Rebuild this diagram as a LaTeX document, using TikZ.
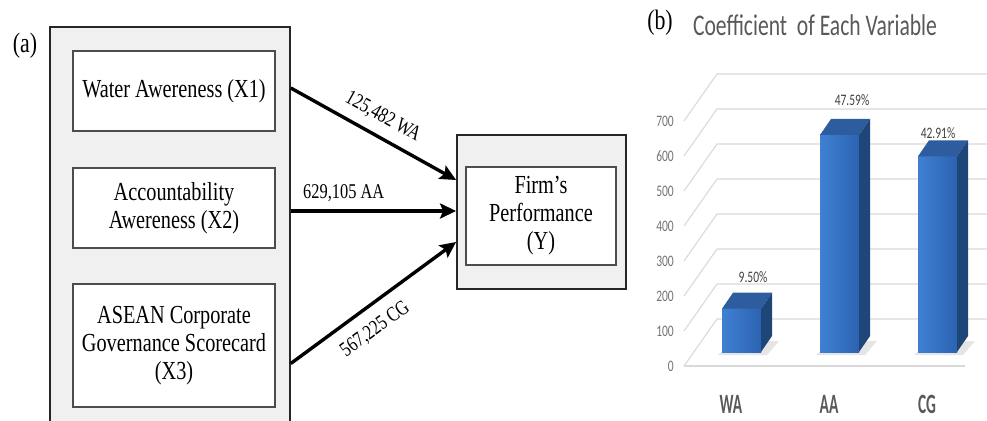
\documentclass[tikz,border=0pt]{standalone}
\usepackage{fontspec}
\newfontfamily\diagfont[FakeStretch=0.78]{Liberation Serif}
\newfontfamily\chartfont[FakeStretch=0.72]{Carlito}
\newfontfamily\narrowfont[FakeStretch=0.55]{Carlito}
\usetikzlibrary{arrows.meta, positioning, calc}
\definecolor{panelgray}{HTML}{F0F0F0}
\definecolor{gridgray}{HTML}{D9D9D9}
\definecolor{barlight}{HTML}{3F80D2}
\definecolor{bardark}{HTML}{2C63B2}
\definecolor{bartop}{HTML}{2D5C9F}
\definecolor{barside}{HTML}{1F4679}
\tikzset{
  groupbox/.style={draw=black!85, line width=1.8pt, fill=panelgray, inner sep=0pt},
  varbox/.style={draw=black!70, line width=1.2pt, fill=white, minimum width=202pt,
    align=center, inner sep=0pt, font=\diagfont\fontsize{26}{28}\selectfont},
  effect/.style={line width=3.4pt, -{Stealth[length=16pt,width=15pt,inset=3pt]}},
  coeflabel/.style={font=\diagfont\fontsize{21}{23}\selectfont, sloped},
  panellabel/.style={font=\diagfont\fontsize{28}{30}\selectfont},
  gridline/.style={draw=gridgray, line width=1.1pt},
  ticklabel/.style={font=\chartfont\fontsize{16}{18}\selectfont, text=black!55, anchor=east, inner sep=0pt},
  pctlabel/.style={font=\chartfont\fontsize{16}{18}\selectfont, text=black!75},
  catlabel/.style={font=\narrowfont\bfseries\fontsize{28}{30}\selectfont, text=black!65}
}
\begin{document}
\begin{tikzpicture}[x=1pt,y=-1pt]
\useasboundingbox (0,0) rectangle (987,420);
\clip (0,0) rectangle (987,420);
% (a) path model
\node[panellabel] (tagA) at (25,46) {(a)};
\node[groupbox, minimum width=240pt, minimum height=420pt, anchor=north west] (inputs) at (49,26) {};
\node[varbox, minimum height=80pt] (wa) at (174,91) {Water Awereness (X1)};
\node[varbox, minimum height=80pt] (aa) at (174,208) {Accountability\\Awereness (X2)};
\node[varbox, minimum height=123pt] (cg) at (174,345.5) {ASEAN Corporate\\Governance Scorecard\\(X3)};
\node[groupbox, minimum width=169pt, minimum height=154pt] (firm) at (541.5,212) {};
\node[varbox, minimum width=150pt, minimum height=98pt] (perf) at (541,216) {Firm’s\\Performance\\(Y)};
\coordinate (waout) at ($(inputs.east |- wa.east)+(0,-3)$);
\coordinate (aaout) at ($(inputs.east |- aa.east)+(0,3)$);
\coordinate (cgout) at ($(inputs.east |- cg.east)+(0,18)$);
\draw[effect] (waout) -- ($(firm.west)+(0,-32)$) node[coeflabel, pos=0.5, above=6pt] {125,482 WA};
\draw[effect] (aaout) -- (firm.west |- aaout) node[coeflabel, pos=0.32, above=4pt] {629,105 AA};
\draw[effect] (cgout) -- ($(firm.west)+(0,30)$) node[coeflabel, pos=0.43, below=9pt] {567,225 CG};
% (b) coefficient chart
\node[panellabel] (tagB) at (660,23) {(b)};
\node[font=\chartfont\fontsize{30}{32}\selectfont, text=black!65] (title) at (815,25) {Coefficient\ \ of Each Variable};
\foreach \v in {0,100,...,700} {
    \pgfmathsetmacro{\fy}{366-0.35*\v}
    \draw[gridline] (684,\fy) -- (717,\fy-47) -- (990,\fy-47);
    \node[ticklabel] at (674,\fy) {\v};
}
\draw[gridline] (684,366) -- (965,366);
% bars
\foreach \x/\v/\c in {722/125.482/WA, 820/629.105/AA, 918/567.225/CG} {
    \pgfmathsetmacro{\ty}{352-0.345*\v}
    \fill[black!10] (\x-4,355) -- (\x+45,355) -- (\x+57,341) -- (\x+12,341) -- cycle;
    \shade[left color=barlight, right color=bardark] (\x,\ty) rectangle (\x+39,352);
    \fill[bartop] (\x,\ty) -- (\x+11,\ty-16) -- (\x+50,\ty-16) -- (\x+39,\ty) -- cycle;
    \fill[barside] (\x+39,\ty) -- (\x+50,\ty-16) -- (\x+50,336) -- (\x+39,352) -- cycle;
    \node[catlabel] at (\x+9,404) {\c};
}
\foreach \px/\py/\p in {753/277/9.50\%, 852/100/47.59\%, 938/133/42.91\%}
    \node[pctlabel] at (\px,\py) {\p};
\end{tikzpicture}
\end{document}
